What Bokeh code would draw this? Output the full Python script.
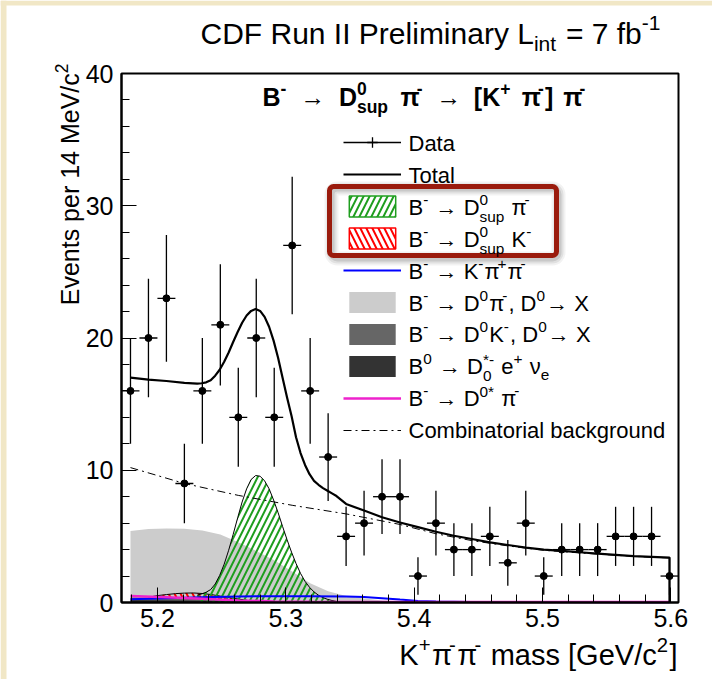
from math import pi, sqrt
from bokeh.plotting import figure
from bokeh.models import (Range1d, SingleIntervalTicker, Label, Legend, LegendItem,
                          BoxAnnotation)
from bokeh.embed import file_html
from bokeh.resources import INLINE

# ---------------- data ----------------
mass = [5.179, 5.193, 5.207, 5.221, 5.235, 5.249, 5.263, 5.277, 5.291, 5.305, 5.319,
        5.333, 5.347, 5.361, 5.375, 5.389, 5.403, 5.417, 5.431, 5.445, 5.459, 5.473,
        5.487, 5.501, 5.515, 5.529, 5.543, 5.557, 5.571, 5.585, 5.599]
events = [16, 20, 23, 9, 16, 21, 14, 20, 14, 27, 16, 11, 5, 6, 8, 8, 2, 6, 4, 4, 5, 3,
          6, 2, 4, 4, 4, 5, 5, 5, 2]
half_bin = 0.007

total_x = [5.179, 5.193, 5.207, 5.221, 5.231, 5.2345, 5.238, 5.2415, 5.245, 5.2485, 5.252,
           5.2555, 5.259, 5.2625, 5.266, 5.2695, 5.273, 5.2765, 5.280, 5.2835, 5.287, 5.2905,
           5.294, 5.2975, 5.301, 5.3045, 5.308, 5.3115, 5.315, 5.3185, 5.322, 5.3255, 5.329,
           5.3325, 5.336, 5.3395, 5.347, 5.361, 5.375, 5.389, 5.403, 5.417, 5.431, 5.445,
           5.459, 5.473, 5.487, 5.501, 5.515, 5.529, 5.543, 5.557, 5.571, 5.585, 5.599, 5.599]
total_y = [17.0, 16.85, 16.75, 16.6, 16.55, 16.58, 16.65, 16.8, 17.15, 17.6, 18.2,
           18.9, 19.7, 20.45, 21.15, 21.7, 22.05, 22.2, 22.05, 21.6, 20.85, 19.8,
           18.5, 17.0, 15.5, 14.1, 12.5, 11.3, 10.4, 9.7, 9.2, 8.9, 8.65,
           8.45, 8.25, 8.05, 7.45, 6.95, 6.45, 6.05, 5.7, 5.35, 5.05, 4.8,
           4.55, 4.35, 4.15, 4.0, 3.9, 3.8, 3.7, 3.6, 3.5, 3.45, 3.4, 0.0]

comb_x = [5.179, 5.221, 5.263, 5.305, 5.347, 5.389, 5.417, 5.445, 5.473, 5.501, 5.529,
          5.557, 5.585, 5.599]
comb_y = [10.2, 9.0, 8.1, 7.35, 6.7, 5.9, 5.2, 4.68, 4.28, 3.95, 3.75, 3.57, 3.42, 3.37]

dsup_pi_x = [5.231, 5.2345, 5.238, 5.2415, 5.245, 5.2485, 5.252, 5.2555, 5.259, 5.2625,
             5.266, 5.2695, 5.273, 5.2765, 5.280, 5.2835, 5.287, 5.2905, 5.294, 5.2975,
             5.301, 5.3045, 5.308, 5.3115, 5.315, 5.3185, 5.322, 5.3255, 5.329, 5.3325,
             5.336, 5.3395, 5.343]
dsup_pi_y = [0.55, 0.65, 0.78, 0.98, 1.4, 2.05, 2.9, 3.95, 5.15, 6.4,
             7.6, 8.6, 9.3, 9.6, 9.55, 9.2, 8.6, 7.75, 6.8, 5.75,
             4.75, 3.8, 2.95, 2.2, 1.6, 1.15, 0.8, 0.55, 0.37, 0.24,
             0.15, 0.08, 0.0]

dsup_k_x = [5.193, 5.200, 5.207, 5.214, 5.221, 5.228, 5.235, 5.242, 5.249, 5.256, 5.263, 5.270]
dsup_k_lo = [0.36, 0.35, 0.35, 0.34, 0.33, 0.32, 0.30, 0.28, 0.26, 0.24, 0.20, 0.17]
dsup_k_hi = [0.40, 0.52, 0.60, 0.67, 0.71, 0.72, 0.68, 0.60, 0.48, 0.36, 0.26, 0.17]

d0pi_x = [5.179, 5.193, 5.207, 5.221, 5.235, 5.249, 5.263, 5.277, 5.291, 5.305, 5.319,
          5.333, 5.347, 5.361, 5.375, 5.389, 5.403, 5.417]
d0pi_y = [5.4, 5.55, 5.6, 5.57, 5.45, 5.15, 4.55, 3.9, 3.2, 2.35, 1.45,
          0.85, 0.5, 0.3, 0.15, 0.07, 0.02, 0.0]

d0k_x = [5.179, 5.207, 5.235, 5.263, 5.291, 5.319, 5.347]
d0k_y = [0.38, 0.35, 0.30, 0.20, 0.10, 0.03, 0.0]

b0_x = [5.179, 5.221, 5.263, 5.305, 5.347]
b0_y = [0.18, 0.15, 0.09, 0.03, 0.0]

kpipi_x = [5.179, 5.207, 5.235, 5.263, 5.291, 5.319, 5.347, 5.361, 5.375, 5.389, 5.403,
           5.417, 5.445, 5.501, 5.599]
kpipi_y = [0.25, 0.32, 0.40, 0.46, 0.48, 0.47, 0.45, 0.42, 0.33, 0.22, 0.12,
           0.07, 0.04, 0.03, 0.02]

dstar_x = [5.179, 5.207, 5.235, 5.263, 5.291, 5.319, 5.361, 5.431, 5.599]
dstar_y = [0.5, 0.4, 0.28, 0.16, 0.08, 0.05, 0.04, 0.03, 0.03]

XMIN, XMAX, YMIN, YMAX = 5.172, 5.606, 0.0, 40.0

# ---------------- page geometry ----------------
W, H = 712, 679
FL, FR, FT, FB = 121, 678, 73, 602   # where the data box sits on the page


def X(px):
    return XMIN + (px - FL) / (FR - FL) * (XMAX - XMIN)


def Y(py):
    return YMIN + (FB - py) / (FB - FT) * (YMAX - YMIN)


AR = {' ': 278, '+': 584, ',': 278, '-': 333, '−': 584, '.': 278, '/': 278, '=': 584,
      '[': 278, ']': 278, '*': 389, '0': 556, '1': 556, '2': 556, '4': 556, '7': 556,
      'B': 667, 'C': 722, 'D': 722, 'E': 667, 'F': 611, 'G': 778, 'I': 278, 'K': 667,
      'L': 556, 'M': 833, 'P': 667, 'R': 722, 'T': 611, 'V': 667, 'X': 667,
      'a': 556, 'b': 556, 'c': 500, 'd': 556, 'e': 556, 'f': 278, 'g': 556, 'i': 222,
      'k': 500, 'l': 222, 'm': 833, 'n': 556, 'o': 556, 'p': 556, 'r': 333, 's': 500,
      't': 278, 'u': 556, 'v': 500, 'y': 500, '→': 1000, 'π': 590, 'ν': 500}
AB = dict(AR)
AB.update({'B': 722, 'D': 722, 'K': 722, '[': 333, ']': 333, 's': 556, 'u': 611, 'p': 611,
           'π': 650})
FONT = "Liberation Sans"
MID = 0.35   # centre of the text box above the baseline, in em


def tw(t, size, bold):
    tab = AB if bold else AR
    return sum(tab.get(c, 556) for c in t) * size / 1000.0


def lab(p, px, py_base, text, size, bold=False, angle=0.0):
    # px: left end of the text; py_base: its baseline (page pixels)
    if angle == 0.0:
        x, y = X(px), Y(py_base - MID * size)
    else:  # rotated 90 deg: px is the baseline column, py_base the start (bottom)
        x, y = X(px - MID * size), Y(py_base)
    p.add_layout(Label(x=x, y=y, text=text, text_font=FONT, text_font_size=f"{size:.1f}px",
                       text_font_style="bold" if bold else "normal", angle=angle,
                       text_color="black", text_baseline="middle", text_align="left"))


def rich(p, pieces, x0, base, size, bold=False, align="left"):
    items = []
    x = 0.0
    small = size * 0.7

    def put(t, dy, s):
        nonlocal x
        lead = len(t) - len(t.lstrip(' '))
        x += tw(t[:lead], s, bold)
        t = t[lead:]
        items.append((x, dy, t, s))
        x += tw(t, s, bold)

    for pc in pieces:
        kind = pc[0]
        if kind == "n":
            put(pc[1], 0.0, size)
        elif kind == "g":
            x += pc[1] * size
        elif kind == "^":
            put(pc[1], -0.45 * size, small)
            x += 0.05 * size
        elif kind == "_":
            put(pc[1], 0.25 * size, small)
            x += 0.05 * size
        elif kind == "^_":
            items.append((x, -0.45 * size, pc[1], small))
            items.append((x, 0.30 * size, pc[2], small))
            x += max(tw(pc[1], small, bold), tw(pc[2], small, bold)) + 0.05 * size
    start = x0 if align == "left" else x0 - x
    for dx, dy, t, s in items:
        if t:
            lab(p, start + dx, base + dy, t, s, bold)


# ---------------- figure: the plotting frame fills the whole canvas ----------------
p = figure(width=W, height=H, x_range=Range1d(X(0), X(W)), y_range=Range1d(Y(H), Y(0)),
           output_backend="svg", toolbar_location=None, min_border=0)
p.grid.visible = False
p.background_fill_color = "white"
p.border_fill_color = "white"
p.outline_line_color = None

p.xaxis.ticker = SingleIntervalTicker(interval=0.1, num_minor_ticks=5)
p.yaxis.ticker = SingleIntervalTicker(interval=10, num_minor_ticks=5)
p.xaxis.fixed_location = YMIN
p.yaxis.fixed_location = XMIN
p.xaxis.bounds = (XMIN, XMAX)
p.yaxis.bounds = (YMIN, YMAX)
for ax in (p.xaxis[0], p.yaxis[0]):
    ax.major_tick_in = 15
    ax.major_tick_out = 0
    ax.minor_tick_in = 8
    ax.minor_tick_out = 0
    ax.axis_line_width = 2
    ax.major_tick_line_width = 1
    ax.minor_tick_line_width = 1
    ax.major_label_text_font = FONT
    ax.major_label_text_font_size = "25px"
    ax.major_label_text_color = "black"
p.xaxis.major_label_standoff = 6
p.yaxis.major_label_standoff = 8

# parchment edge of the slide (top and left)
p.add_layout(BoxAnnotation(left=X(0), right=X(6), bottom=Y(H), top=Y(0),
                           fill_color="#f1e7c6", fill_alpha=1, line_alpha=0, level="underlay"))
p.add_layout(BoxAnnotation(left=X(0), right=X(W), bottom=Y(5), top=Y(0),
                           fill_color="#f1e7c6", fill_alpha=1, line_alpha=0, level="underlay"))

# ---------------- components ----------------
GREEN, RED = "#1f9e1f", "#ff0000"
r_d0pi = p.varea(x=d0pi_x, y1=0, y2=d0pi_y, fill_color="#cccccc")
r_d0k = p.varea(x=d0k_x, y1=0, y2=d0k_y, fill_color="#666666")
r_b0 = p.varea(x=b0_x, y1=0, y2=b0_y, fill_color="#333333")
r_dk = p.varea(x=dsup_k_x, y1=dsup_k_lo, y2=dsup_k_hi, fill_color=None,
               hatch_pattern="\\", hatch_color=RED, hatch_weight=2, hatch_scale=12)
p.line(dsup_k_x, dsup_k_hi, line_color="black", line_width=1)
r_dpi = p.varea(x=dsup_pi_x, y1=0, y2=dsup_pi_y, fill_color=None,
                hatch_pattern="/", hatch_color=GREEN, hatch_weight=2, hatch_scale=12)
p.line(dsup_pi_x, dsup_pi_y, line_color="black", line_width=1)
r_kpp = p.line(kpipi_x, kpipi_y, line_color="#0000ff", line_width=2)
r_dst = p.line(dstar_x, dstar_y, line_color="#ee22cc", line_width=2.5)
r_comb = p.line(comb_x, comb_y, line_color="black", line_width=1, line_dash="8 4 2 4")
r_tot = p.line(total_x, total_y, line_color="black", line_width=2.2)

lo = [n - sqrt(n) for n in events]
hi = [n + sqrt(n) for n in events]
xl = [m - half_bin for m in mass]
xr = [m + half_bin for m in mass]
p.segment(x0=mass, y0=lo, x1=mass, y1=hi, line_color="black", line_width=1.3)
r_hbar = p.segment(x0=xl, y0=events, x1=xr, y1=events, line_color="black", line_width=1.3)
p.scatter(mass, events, size=7, color="black")

# legend-only keys (no data of their own)
nan = [float("nan")]
r_tick = p.scatter(x=nan, y=nan, marker="cross", line_color="black", line_width=1.3, size=12)
k_dpi = p.quad(left=nan, right=nan, top=nan, bottom=nan, fill_color=None,
               line_color=GREEN, line_width=1.5)
k_dk = p.quad(left=nan, right=nan, top=nan, bottom=nan, fill_color=None,
              line_color=RED, line_width=1.5)

# frame of the data box (top and right sides; axes give left and bottom)
p.add_layout(BoxAnnotation(left=XMIN, right=XMAX, bottom=YMIN, top=YMAX, fill_alpha=0,
                           line_color="black", line_alpha=1, line_width=2))

# ---------------- highlight box shadow ----------------
for lw, a in [(14, 0.05), (10, 0.07), (6, 0.10)]:
    p.add_layout(BoxAnnotation(left=X(331), right=X(558), top=Y(188), bottom=Y(258),
                               fill_alpha=0, line_color="black", line_alpha=a,
                               line_width=lw, border_radius=6))

# ---------------- legend (symbols) ----------------
items = [LegendItem(label=" ", renderers=[r_hbar, r_tick]),
         LegendItem(label=" ", renderers=[r_tot]),
         LegendItem(label=" ", renderers=[r_dpi, k_dpi]),
         LegendItem(label=" ", renderers=[r_dk, k_dk]),
         LegendItem(label=" ", renderers=[r_kpp]),
         LegendItem(label=" ", renderers=[r_d0pi]),
         LegendItem(label=" ", renderers=[r_d0k]),
         LegendItem(label=" ", renderers=[r_b0]),
         LegendItem(label=" ", renderers=[r_dst]),
         LegendItem(label=" ", renderers=[r_comb])]
leg = Legend(items=items, location=(343, H - 443), orientation="vertical",
             glyph_width=58, glyph_height=26, label_height=26, spacing=6, padding=0,
             margin=0, label_standoff=0, label_text_font_size="8px",
             border_line_alpha=0, background_fill_alpha=0)
p.add_layout(leg)

p.add_layout(BoxAnnotation(left=X(329), right=X(556), top=Y(186), bottom=Y(255),
                           fill_alpha=0, line_color="#9a1b0d", line_alpha=1.0,
                           line_width=5, border_radius=4))

# ---------------- legend texts ----------------
M = "-"
leg_texts = [
    [("n", "Data")],
    [("n", "Total")],
    [("n", "B"), ("^", M), ("n", " → D"), ("^_", "0", "sup"), ("n", " π"), ("^", M)],
    [("n", "B"), ("^", M), ("n", " → D"), ("^_", "0", "sup"), ("n", " K"), ("^", M)],
    [("n", "B"), ("^", M), ("n", " → K"), ("^", M), ("n", "π"), ("^", "+"), ("n", "π"), ("^", M)],
    [("n", "B"), ("^", M), ("n", " → D"), ("^", "0"), ("n", "π"), ("^", M), ("n", ", D"), ("^", "0"), ("n", "→ X")],
    [("n", "B"), ("^", M), ("n", " → D"), ("^", "0"), ("n", "K"), ("^", M), ("n", ", D"), ("^", "0"), ("n", "→ X")],
    [("n", "B"), ("^", "0"), ("n", " → D"), ("^_", "*" + M, "0"), ("n", " e"), ("^", "+"), ("n", " ν"), ("_", "e")],
    [("n", "B"), ("^", M), ("n", " → D"), ("^", "0*"), ("n", " π"), ("^", M)],
    [("n", "Combinatorial background")],
]
for k, pcs in enumerate(leg_texts):
    c = 143.3 + 31.86 * k
    rich(p, pcs, 408, c + MID * 22, 22)

# ---------------- titles ----------------
rich(p, [("n", "CDF Run II Preliminary L"), ("_", "int"), ("n", " = 7 fb"), ("^", M + "1")],
     200, 43, 30)
rich(p, [("n", "B"), ("^", M), ("g", 0.5), ("n", "→"), ("g", 0.55), ("n", "D"),
         ("^_", "0", "sup"), ("g", 0.45), ("n", "π"), ("^", M), ("g", 0.5), ("n", "→"),
         ("g", 0.5), ("n", "[K"), ("^", "+"), ("g", 0.4), ("n", "π"), ("^", M),
         ("n", "]"), ("g", 0.4), ("n", "π"), ("^", M)],
     262, 105, 25, bold=True)
rich(p, [("n", "K"), ("^", "+"), ("n", "π"), ("^", M), ("n", "π"), ("^", M),
         ("n", " mass [GeV/c"), ("^", "2"), ("n", "]")], 677, 665, 29, align="right")

# y-axis title (rotated, reads bottom to top)
ysz = 25
ytxt = "Events per 14 MeV/c"
yw = tw(ytxt, ysz, False)
ysup = tw("2", ysz * 0.7, False)
ytop = 63
ybase_x = 78
ystart = ytop + ysup + yw
lab(p, ybase_x, ystart, ytxt, ysz, angle=pi / 2)
lab(p, ybase_x - 0.45 * ysz, ystart - yw, "2", ysz * 0.7, angle=pi / 2)

open("out.html", "w").write(file_html(p, INLINE))
